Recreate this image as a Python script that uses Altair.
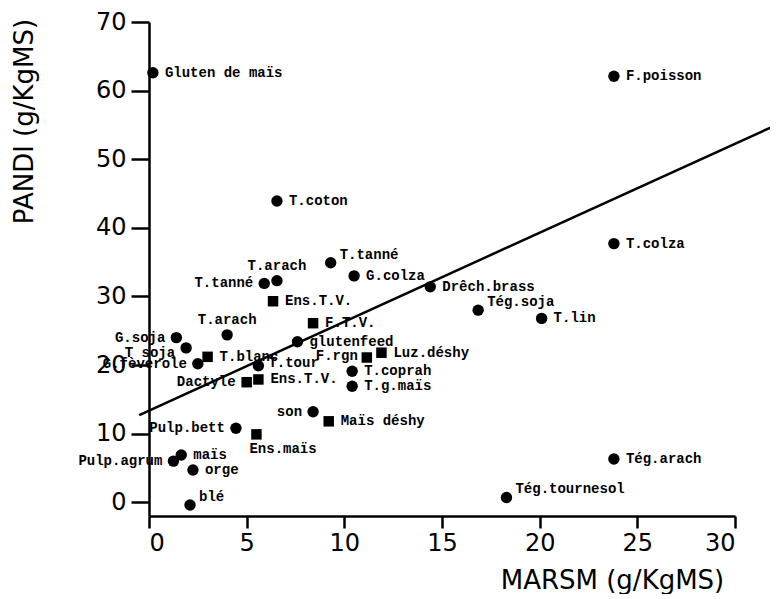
import altair as alt
import pandas as pd

# ---- data ----
names = ["Gluten de maïs", "F.poisson", "T.coton", "T.colza", "T.tanné", "G.colza",
         "T.arach", "T.tanné", "Drêch.brass", "Ens.T.V.", "Tég.soja", "T.lin",
         "F.T.V.", "T.arach", "G.soja", "glutenfeed", "T soja", "T.blanc",
         "F.rgn", "Luz.déshy", "G.fèverole", "T.tour", "Ens.T.V.", "Dactyle",
         "T.coprah", "T.g.maïs", "son", "Maïs déshy", "Pulp.bett", "Ens.maïs",
         "maïs", "Pulp.agrum", "orge", "Tég.arach", "Tég.tournesol", "blé"]
marsm = [0.2, 23.8, 6.55, 23.8, 9.3, 10.5,
         6.55, 5.9, 14.4, 6.35, 16.85, 20.1,
         8.4, 4.0, 1.4, 7.6, 1.9, 3.0,
         11.15, 11.9, 2.5, 5.6, 5.6, 5.0,
         10.4, 10.4, 8.4, 9.2, 4.45, 5.5,
         1.65, 1.25, 2.25, 23.8, 18.3, 2.1]
pandi = [62.6, 62.1, 43.9, 37.7, 34.9, 33.0,
         32.3, 31.9, 31.4, 29.3, 28.0, 26.8,
         26.1, 24.4, 24.0, 23.4, 22.5, 21.2,
         21.1, 21.8, 20.2, 19.9, 17.9, 17.5,
         19.1, 16.9, 13.2, 11.8, 10.8, 9.9,
         6.9, 6.0, 4.7, 6.3, 0.7, -0.4]
kind = ["rond", "rond", "rond", "rond", "rond", "rond",
        "rond", "rond", "rond", "carré", "rond", "rond",
        "carré", "rond", "rond", "rond", "rond", "carré",
        "carré", "carré", "rond", "rond", "carré", "carré",
        "rond", "rond", "rond", "carré", "rond", "carré",
        "rond", "rond", "rond", "rond", "rond", "rond"]
label_side = ["r", "r", "r", "r", "ru", "r",
              "t", "l", "r", "r", "ru", "r",
              "r", "t", "l", "r", "ld", "r",
              "lu", "r", "l", "rs", "r", "l",
              "r", "r", "l", "r", "l", "b",
              "r", "l", "r", "r", "ru", "ru"]

# regression line (end points)
line_x = [-0.5, 32.5]
line_y = [12.7, 55.5]

x_ticks = [0, 5, 10, 15, 20, 25, 30]
y_ticks = [0, 10, 20, 30, 40, 50, 60, 70]

df = pd.DataFrame({"name": names, "MARSM": marsm, "PANDI": pandi,
                   "kind": kind, "side": label_side})
line_df = pd.DataFrame({"MARSM": line_x, "PANDI": line_y})

axis_font = "DejaVu Sans"
label_font = "Liberation Mono"

xscale = alt.Scale(domain=[0, 30], nice=False, zero=False)
yscale = alt.Scale(domain=[-2, 70], nice=False, zero=False)

xaxis = alt.Axis(values=x_ticks, title="MARSM (g/KgMS)", grid=False,
                 tickSize=12, labelPadding=3, labelFontSize=24, labelFont=axis_font,
                 labelColor="black", titleFont=axis_font, titleFontSize=26,
                 titleFontWeight="normal", titleColor="black",
                 titleX=463, titleY=64, titleBaseline="middle", titleAlign="center",
                 domainColor="black", domainWidth=2.5, tickColor="black", tickWidth=2.5)
yaxis = alt.Axis(values=y_ticks, title="PANDI (g/KgMS)", grid=False,
                 tickSize=18, labelPadding=5, labelFontSize=24, labelFont=axis_font,
                 labelColor="black", titleFont=axis_font, titleFontSize=26,
                 titleFontWeight="normal", titleColor="black",
                 titleX=-125, titleY=99, titleAngle=270, titleBaseline="middle",
                 titleAlign="center",
                 domainColor="black", domainWidth=2.5, tickColor="black", tickWidth=2.5)

base = alt.Chart(df)

circles = base.transform_filter(alt.datum.kind == "rond").mark_circle(
    size=130, color="black", opacity=1).encode(
    x=alt.X("MARSM:Q", scale=xscale, axis=xaxis),
    y=alt.Y("PANDI:Q", scale=yscale, axis=yaxis))

squares = base.transform_filter(alt.datum.kind == "carré").mark_square(
    size=110, color="black", opacity=1).encode(
    x=alt.X("MARSM:Q", scale=xscale),
    y=alt.Y("PANDI:Q", scale=yscale))

reg = alt.Chart(line_df).mark_line(color="black", strokeWidth=2.5).encode(
    x=alt.X("MARSM:Q", scale=xscale),
    y=alt.Y("PANDI:Q", scale=yscale))

side_style = {
    "r": dict(align="left", dx=12, dy=0),
    "rs": dict(align="left", dx=10, dy=-3),
    "ru": dict(align="left", dx=9, dy=-8),
    "l": dict(align="right", dx=-11, dy=0),
    "lu": dict(align="right", dx=-9, dy=-2),
    "ld": dict(align="right", dx=-11, dy=5),
    "t": dict(align="center", dx=0, dy=-15),
    "b": dict(align="left", dx=-7, dy=15),
}

label_layers = []
for side, st in side_style.items():
    label_layers.append(
        base.transform_filter(alt.datum.side == side).mark_text(
            font=label_font, fontSize=14, fontWeight="bold", color="black",
            baseline="middle", **st).encode(
            x=alt.X("MARSM:Q", scale=xscale),
            y=alt.Y("PANDI:Q", scale=yscale),
            text="name:N"))

chart = alt.layer(reg, circles, squares, *label_layers).properties(
    width=586, height=494,
    autosize=alt.AutoSizeParams(type="none"),
    padding={"left": 141, "top": 14, "right": 35, "bottom": 78},
    background="white",
).configure_view(stroke=None)

chart.save("out.html", embed_options={"renderer": "svg", "actions": False})
